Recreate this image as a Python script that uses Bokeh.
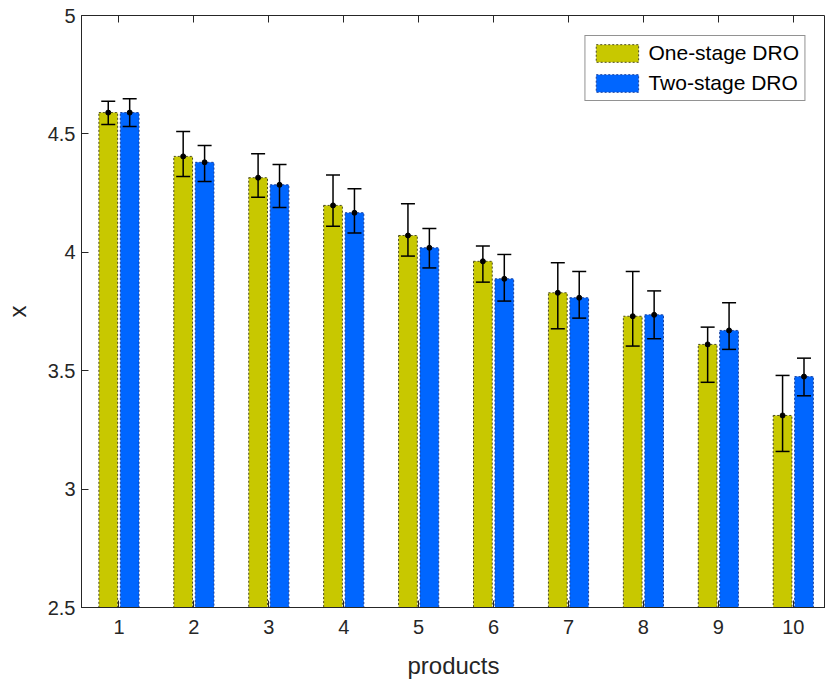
from bokeh.plotting import figure
from bokeh.models import ColumnDataSource, Range1d, LinearAxis, FixedTicker, Whisker, TeeHead, Legend
from bokeh.transform import dodge
from bokeh.embed import file_html
from bokeh.resources import INLINE

products = [1, 2, 3, 4, 5, 6, 7, 8, 9, 10]
one_stage = [4.59, 4.405, 4.315, 4.198, 4.071, 3.962, 3.829, 3.730, 3.611, 3.311]
one_upper = [4.638, 4.510, 4.416, 4.326, 4.205, 4.027, 3.956, 3.919, 3.684, 3.480]
one_lower = [4.540, 4.320, 4.233, 4.110, 3.984, 3.874, 3.677, 3.604, 3.451, 3.159]
two_stage = [4.59, 4.380, 4.285, 4.167, 4.019, 3.888, 3.808, 3.736, 3.670, 3.475]
two_upper = [4.648, 4.451, 4.371, 4.268, 4.101, 3.991, 3.919, 3.837, 3.787, 3.553]
two_lower = [4.531, 4.299, 4.189, 4.081, 3.934, 3.794, 3.722, 3.635, 3.590, 3.394]
y_ticks = [2.5, 3, 3.5, 4, 4.5, 5]
y_tick_labels = ["2.5", "3", "3.5", "4", "4.5", "5"]

FONT = "Liberation Sans"
TXT = "#262626"

src = ColumnDataSource(dict(
    x=products, one=one_stage, one_up=one_upper, one_lo=one_lower,
    two=two_stage, two_up=two_upper, two_lo=two_lower,
))

p = figure(width=825, height=685, output_backend="svg", toolbar_location=None,
           x_range=Range1d(0.5, 10.43), y_range=Range1d(2.5, 5),
           min_border_left=81, min_border_top=15, min_border_right=0, min_border_bottom=78)
p.xgrid.visible = False
p.ygrid.visible = False
p.outline_line_color = TXT
p.outline_line_width = 1
p.background_fill_color = "white"

OFF = 0.143
W = 0.25
r1 = p.vbar(x=dodge("x", -OFF, range=p.x_range), top="one", bottom=2.5, width=W, source=src,
            fill_color="#c8c800", line_color="#4a4a20", line_dash="2 2", line_width=1)
r2 = p.vbar(x=dodge("x", OFF, range=p.x_range), top="two", bottom=2.5, width=W, source=src,
            fill_color="#0066ff", line_color="#1a3f99", line_dash="2 2", line_width=1)

for col, lo, up, off in [("one", "one_lo", "one_up", -OFF), ("two", "two_lo", "two_up", OFF)]:
    wk = Whisker(base=dodge("x", off, range=p.x_range), upper=up, lower=lo, source=src,
                 dimension="height", line_color="black", line_width=1.5, level="overlay",
                 upper_head=TeeHead(size=14, line_color="black", line_width=1.5),
                 lower_head=TeeHead(size=14, line_color="black", line_width=1.5))
    p.add_layout(wk)
    p.scatter(x=dodge("x", off, range=p.x_range), y=col, source=src, size=5,
              fill_color="black", line_color="black", level="overlay")

for ax in p.xaxis + p.yaxis:
    ax.major_tick_in = 7
    ax.major_tick_out = 0
    ax.minor_tick_in = 0
    ax.minor_tick_out = 0
    ax.axis_line_color = TXT
    ax.major_tick_line_color = TXT
    ax.major_label_text_font = FONT
    ax.major_label_text_font_size = "20px"
    ax.major_label_text_color = TXT
    ax.axis_label_text_font = FONT
    ax.axis_label_text_font_size = "24px"
    ax.axis_label_text_font_style = "normal"
    ax.axis_label_text_color = TXT

p.xaxis.ticker = FixedTicker(ticks=products)
p.xaxis.major_label_standoff = 12
p.xaxis.axis_label = "products"
p.xaxis.axis_label_standoff = 15
p.yaxis.ticker = FixedTicker(ticks=y_ticks)
p.yaxis.major_label_overrides = {t: l for t, l in zip(y_ticks, y_tick_labels)}
p.yaxis.major_label_standoff = 6
p.yaxis.axis_label = "x"
p.yaxis.axis_label_standoff = 14

top = LinearAxis(ticker=FixedTicker(ticks=products), major_tick_in=7, major_tick_out=0,
                 minor_tick_in=0, minor_tick_out=0,
                 major_label_overrides={t: "" for t in products},
                 major_label_standoff=0, axis_line_color=None, major_tick_line_color=TXT)
p.add_layout(top, "above")

legend = Legend(items=[("One-stage DRO", [r1]), ("Two-stage DRO", [r2])],
                location="top_right")
legend.label_text_font = FONT
legend.label_text_font_size = "21px"
legend.label_text_color = "black"
legend.glyph_width = 53
legend.glyph_height = 22
legend.spacing = 6
legend.padding = 5
legend.label_standoff = 5
legend.margin = 20
legend.border_line_color = TXT
legend.border_line_width = 1
legend.background_fill_alpha = 1
p.add_layout(legend, "center")

open("out.html", "w").write(file_html(p, INLINE))
